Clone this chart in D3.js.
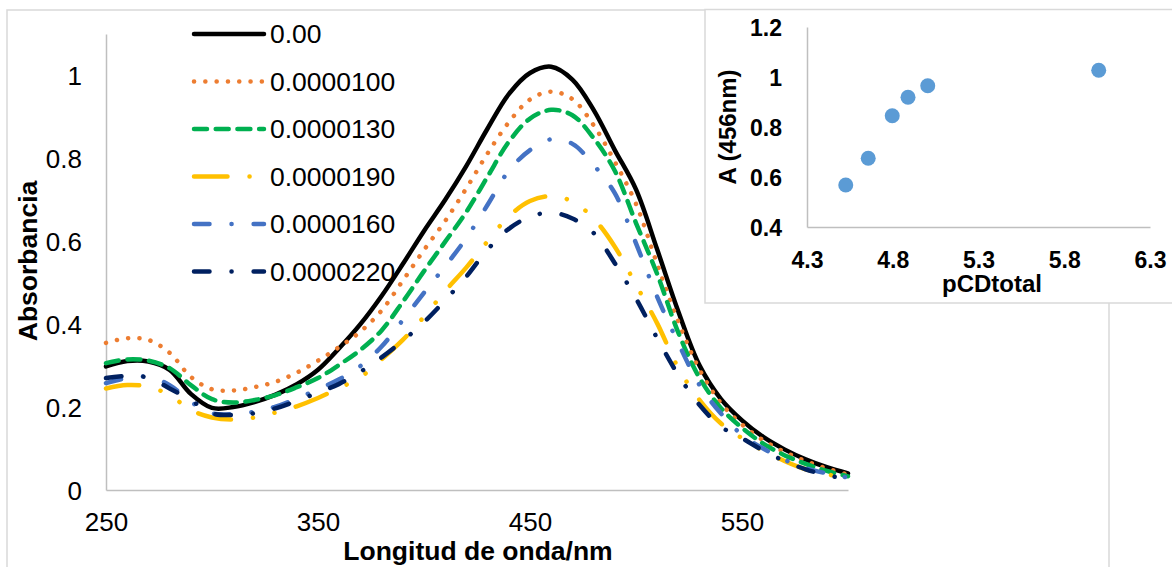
<!DOCTYPE html>
<html>
  <head>
    <meta charset="utf-8">
    <title>Absorbancia vs longitud de onda</title>
    <script src="https://cdn.jsdelivr.net/npm/d3@7"></script>
    <style type="text/css">
    body { margin: 0; background: #fff; }
    text { font-family: "Liberation Sans", Arial, sans-serif; fill: #000; }
    .axis path.domain { stroke: #BFBFBF; stroke-width: 1.5px; }
    .axis text { font-size: 26px; }
    .inset .axis text { font-size: 23px; font-weight: bold; }
    .title { font-size: 26.5px; font-weight: bold; }
    .inset .title { font-size: 24px; }
    </style>
  </head>
  <body>
  <script type="text/javascript">

    // wavelengths (nm)
    var wavelengths = [250, 260, 270, 280, 290, 300, 310, 320, 330, 340, 350, 360,
                       370, 380, 390, 400, 410, 420, 430, 440, 450, 460, 470, 480,
                       490, 500, 510, 520, 530, 540, 550, 560, 570, 580, 590, 600];

    // absorbance of each series
    var abs000 = [0.298, 0.311, 0.310, 0.290, 0.232, 0.198, 0.200, 0.212, 0.230, 0.255, 0.290, 0.342,
                  0.400, 0.468, 0.545, 0.625, 0.700, 0.782, 0.872, 0.955, 1.006, 1.021, 0.990, 0.917,
                  0.820, 0.725, 0.580, 0.430, 0.300, 0.220, 0.168, 0.128, 0.098, 0.074, 0.055, 0.040];
    var abs100 = [0.355, 0.366, 0.362, 0.331, 0.273, 0.243, 0.240, 0.248, 0.261, 0.283, 0.312, 0.345,
                  0.382, 0.433, 0.505, 0.579, 0.649, 0.728, 0.812, 0.887, 0.942, 0.961, 0.943, 0.880,
                  0.792, 0.690, 0.545, 0.405, 0.290, 0.210, 0.158, 0.120, 0.092, 0.070, 0.052, 0.037];
    var abs130 = [0.306, 0.315, 0.312, 0.294, 0.253, 0.219, 0.211, 0.217, 0.229, 0.248, 0.270, 0.302,
                  0.338, 0.385, 0.454, 0.528, 0.599, 0.671, 0.756, 0.840, 0.896, 0.917, 0.904, 0.849,
                  0.770, 0.644, 0.521, 0.379, 0.270, 0.198, 0.150, 0.112, 0.084, 0.063, 0.046, 0.033];
    var abs190 = [0.245, 0.253, 0.249, 0.229, 0.193, 0.175, 0.170, 0.175, 0.187, 0.202, 0.222, 0.246,
                  0.272, 0.315, 0.362, 0.418, 0.480, 0.537, 0.600, 0.660, 0.697, 0.709, 0.696, 0.655,
                  0.587, 0.495, 0.402, 0.294, 0.217, 0.161, 0.125, 0.095, 0.070, 0.050, 0.038, 0.028];
    var abs160 = [0.258, 0.270, 0.273, 0.253, 0.213, 0.185, 0.183, 0.189, 0.201, 0.221, 0.243, 0.267,
                  0.299, 0.346, 0.410, 0.476, 0.540, 0.608, 0.688, 0.770, 0.820, 0.846, 0.835, 0.784,
                  0.716, 0.595, 0.466, 0.354, 0.253, 0.185, 0.133, 0.100, 0.073, 0.053, 0.040, 0.030];
    var abs220 = [0.270, 0.275, 0.271, 0.245, 0.217, 0.185, 0.181, 0.185, 0.197, 0.215, 0.235, 0.256,
                  0.285, 0.320, 0.360, 0.405, 0.458, 0.515, 0.580, 0.630, 0.659, 0.669, 0.655, 0.620,
                  0.547, 0.462, 0.366, 0.277, 0.205, 0.153, 0.125, 0.095, 0.070, 0.050, 0.036, 0.026];

    var seriesNames = ["0.00", "0.0000100", "0.0000130", "0.0000190", "0.0000160", "0.0000220"];
    var seriesValues = [abs000, abs100, abs130, abs190, abs160, abs220];
    var seriesColors = ["#000000", "#ED7D31", "#00B050", "#FFC000", "#4472C4", "#002060"];
    var seriesDashes = [null, "0.1,11.2", "13,8.7", "33.5,22,0.1,22,0.1,22", "15.5,22,0.1,22", "15.5,22,0.1,22"];

    var yTicks = [0, 0.2, 0.4, 0.6, 0.8, 1];
    var xTicks = [250, 350, 450, 550];

    // inset: pCDtotal vs A(456nm)
    var pCD = [4.526, 4.657, 4.797, 4.889, 5.004, 6.001];
    var A456 = [0.568, 0.675, 0.845, 0.919, 0.965, 1.027];
    var insetXTicks = [4.3, 4.8, 5.3, 5.8, 6.3];
    var insetYTicks = [0.4, 0.6, 0.8, 1, 1.2];

    var W = 1172, H = 567;
    var svg = d3.select("body").append("svg").attr("width", W).attr("height", H);

    // chart border
    svg.append("rect")
      .attr("x", 7).attr("y", 10).attr("width", 1102).attr("height", 620)
      .style("fill", "#fff").style("stroke", "#D9D9D9").style("stroke-width", 1.5);

    var x = d3.scaleLinear().domain([250, 600]).range([106, 848]);
    var y = d3.scaleLinear().domain([0, 1.1]).range([490, 34]);
    var fmt = d3.format("~g");

    var yAxis = svg.append("g").attr("class", "axis")
      .attr("transform", "translate(106,0)")
      .call(d3.axisLeft(y).tickValues(yTicks).tickFormat(fmt).tickSize(0).tickPadding(24));
    yAxis.selectAll("text").attr("dy", "0.35em");

    var xAxis = svg.append("g").attr("class", "axis")
      .attr("transform", "translate(0,490)")
      .call(d3.axisBottom(x).tickValues(xTicks).tickSize(0));
    xAxis.selectAll("text").attr("y", 32).attr("dy", "0.35em");

    svg.append("text").attr("class", "title")
      .attr("transform", "translate(28,261) rotate(-90)")
      .attr("text-anchor", "middle").attr("dy", "0.35em")
      .text("Absorbancia");
    svg.append("text").attr("class", "title")
      .attr("x", 478).attr("y", 551)
      .attr("text-anchor", "middle").attr("dy", "0.35em")
      .text("Longitud de onda/nm");

    // legend
    var legend = svg.append("g");
    seriesNames.forEach(function(name, i) {
      var ly = 34 + i * 47.5;
      legend.append("line")
        .attr("x1", 194).attr("x2", 264).attr("y1", ly).attr("y2", ly)
        .style("stroke", seriesColors[i]).style("stroke-width", 4.5)
        .style("stroke-linecap", "round")
        .style("stroke-dasharray", seriesDashes[i] || "none");
      legend.append("text")
        .attr("x", 270).attr("y", ly).attr("dy", "0.35em")
        .style("font-size", "26.5px")
        .text(name);
    });

    // curves
    var line = d3.line()
      .x(function(d, i) { return x(wavelengths[i]); })
      .y(function(d) { return y(d); })
      .curve(d3.curveCatmullRom);

    svg.append("g").selectAll("path")
      .data(seriesValues)
      .enter().append("path")
      .attr("d", line)
      .style("fill", "none")
      .style("stroke", function(d, i) { return seriesColors[i]; })
      .style("stroke-width", 4.5)
      .style("stroke-linecap", "round")
      .style("stroke-linejoin", "round")
      .style("stroke-dasharray", function(d, i) { return seriesDashes[i] || "none"; });

    // inset chart
    var inset = svg.append("g").attr("class", "inset");
    inset.append("rect")
      .attr("x", 705).attr("y", 9.5).attr("width", 520).attr("height", 293.5)
      .style("fill", "#fff").style("stroke", "#D9D9D9").style("stroke-width", 1.5);

    var ix = d3.scaleLinear().domain([4.3, 6.3]).range([807, 1150]);
    var iy = d3.scaleLinear().domain([0.4, 1.2]).range([227, 27]);

    var iyAxis = inset.append("g").attr("class", "axis")
      .attr("transform", "translate(807,0)")
      .call(d3.axisLeft(iy).tickValues(insetYTicks).tickFormat(fmt).tickSize(0).tickPadding(25));
    iyAxis.selectAll("text").attr("dy", "0.35em");

    var ixAxis = inset.append("g").attr("class", "axis")
      .attr("transform", "translate(0,227)")
      .call(d3.axisBottom(ix).tickValues(insetXTicks).tickFormat(fmt).tickSize(0));
    ixAxis.selectAll("text").attr("y", 33).attr("dy", "0.35em");

    inset.append("text").attr("class", "title")
      .attr("transform", "translate(728,127) rotate(-90)")
      .attr("text-anchor", "middle").attr("dy", "0.35em")
      .text("A (456nm)");
    inset.append("text").attr("class", "title")
      .attr("x", 992).attr("y", 284)
      .attr("text-anchor", "middle").attr("dy", "0.35em")
      .text("pCDtotal");

    inset.append("g").selectAll("circle")
      .data(pCD)
      .enter().append("circle")
      .attr("cx", function(d) { return ix(d); })
      .attr("cy", function(d, i) { return iy(A456[i]); })
      .attr("r", 7.5)
      .style("fill", "#5B9BD5");

  </script>
  </body>
</html>
